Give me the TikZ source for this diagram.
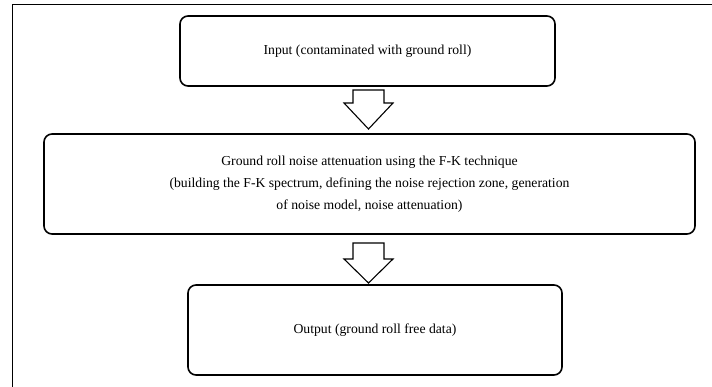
\documentclass[tikz,border=0pt]{standalone}
\usepackage{fontspec}
\setmainfont{Liberation Serif}
\begin{document}
\begin{tikzpicture}[x=1pt,y=-1pt,
  box/.style={draw,line width=1.6pt,rounded corners=8pt,align=center,
    font=\fontsize{13.7}{22}\selectfont,inner sep=0pt},
  blockarrow/.style={draw,line width=1.1pt,fill=white,line join=miter}]
\useasboundingbox (0,0) rectangle (712,387);
% outer frame (only top and left visible)
\draw[line width=1.8pt] (712,4.5) -- (12.5,4.5) -- (12.5,387);
% boxes
\node[box,minimum width=375pt,minimum height=70pt] (in) at (367.5,51) {Input (contaminated with ground roll)};
\node[box,minimum width=651pt,minimum height=100pt] (fk) at (369.5,184)
  {Ground roll noise attenuation using the F-K technique\\
   (building the F-K spectrum, defining the noise rejection zone, generation\\
   of noise model, noise attenuation)};
\node[box,minimum width=374pt,minimum height=90pt] (out) at (375,330) {Output (ground roll free data)};
% block arrows
\draw[blockarrow] (353,90) -- (353,103) -- (344,103) -- (368.5,129) -- (393,103) -- (384,103) -- (384,90) -- cycle;
\draw[blockarrow] (353,243) -- (353,259) -- (344,259) -- (368.5,283) -- (393,259) -- (384,259) -- (384,243) -- cycle;
\end{tikzpicture}
\end{document}
